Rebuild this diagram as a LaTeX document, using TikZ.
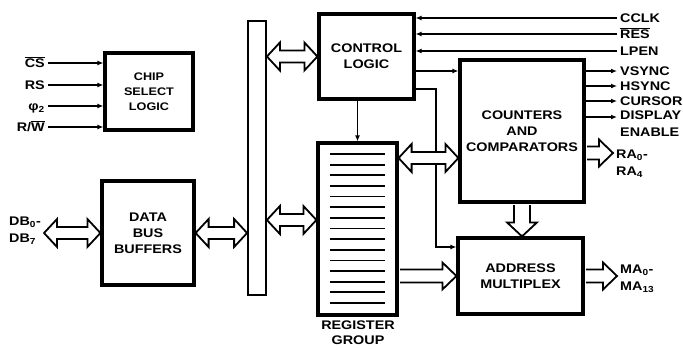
\documentclass[tikz,border=0pt]{standalone}
\usepackage{fontspec}
\setmainfont{Liberation Sans}[FakeStretch=1.15]
\usetikzlibrary{arrows.meta,calc}
\newcommand{\dblarrow}[2]{%
  \path[fat] let \p1=(#1), \p2=(#2) in
    (\x1,\y1) -- (\x1+13pt,\y1+14pt) -- (\x1+13pt,\y1+6pt) -- (\x2-13pt,\y1+6pt)
    -- (\x2-13pt,\y1+14pt) -- (\x2,\y1) -- (\x2-13pt,\y1-14pt) -- (\x2-13pt,\y1-6pt)
    -- (\x1+13pt,\y1-6pt) -- (\x1+13pt,\y1-14pt) -- cycle;}
\newcommand{\fatarrow}[2]{%
  \path[fat] let \p1=(#1), \p2=(#2) in
    (\x1+1.6pt,\y1+6.5pt) -- (\x2-14pt,\y1+6.5pt) -- (\x2-14pt,\y1+13.5pt) -- (\x2,\y1)
    -- (\x2-14pt,\y1-13.5pt) -- (\x2-14pt,\y1-6.5pt) -- (\x1+1.6pt,\y1-6.5pt);}
\newcommand{\fatdown}[2]{%
  \path[fat] let \p1=(#1), \p2=(#2) in
    (\x1-8pt,\y1-1.6pt) -- (\x1-8pt,\y2+14pt) -- (\x1-15pt,\y2+14pt) -- (\x1,\y2)
    -- (\x1+15pt,\y2+14pt) -- (\x1+8pt,\y2+14pt) -- (\x1+8pt,\y1-1.6pt);}

\begin{document}
\begin{tikzpicture}[x=1pt, y=-1pt,
    every node/.style={font=\bfseries\fontsize{12.5}{16}\selectfont},
    blk/.style={draw, line width=3.2pt, align=center},
    lbl/.style={inner sep=3pt, text height=9pt, text depth=0pt},
    lbl2/.style={inner sep=3pt, align=left, font=\bfseries\fontsize{12.5}{17}\selectfont},
    sig/.style={line width=1.8pt, -{Latex[length=6pt,width=5pt]}},
    fat/.style={draw, fill=white, line width=1.8pt}]

    \useasboundingbox (0,0) rectangle (683,349);

    \node[blk, minimum width=88pt, minimum height=77pt, font=\bfseries\fontsize{11}{15}\selectfont] (csl) at (149,91.5) {CHIP\\SELECT\\LOGIC};
    \node[blk, minimum width=92pt, minimum height=104pt] (dbb) at (148,233) {DATA\\BUS\\BUFFERS};
    \node[draw, line width=1.8pt, minimum width=18pt, minimum height=274pt] (bus) at (257,158) {};
    \node[blk, minimum width=95pt, minimum height=85pt] (ctl) at (366.5,56.5) {CONTROL\\LOGIC};
    \node[blk, minimum width=79pt, minimum height=172pt] (reg) at (357.5,229) {};
    \node[blk, minimum width=124pt, minimum height=142pt] (cnt) at (522,131) {COUNTERS\\AND\\COMPARATORS};
    \node[blk, minimum width=125pt, minimum height=76pt] (amx) at (520.5,276) {ADDRESS\\MULTIPLEX};
    \node[align=center, font=\bfseries\fontsize{12.5}{15}\selectfont] (lreg) at (358,333) {REGISTER\\GROUP};

    \foreach \i in {0,...,14}
        \draw[line width=1.8pt] (330,154+10.64*\i) -- (385,154+10.64*\i);

    \node[lbl, anchor=east] (lcs) at (48,63) {$\overline{\hbox{CS}}$};
    \node[lbl, anchor=east] (lrs) at (48,85) {RS};
    \node[lbl, anchor=east] (lphi) at (48,106) {φ\textsubscript{2}};
    \node[lbl, anchor=east] (lrw) at (48,127) {R/$\overline{\hbox{W}}$};

    \draw[sig] (lcs.east) -- (lcs -| csl.west);
    \draw[sig] (lrs.east) -- (lrs -| csl.west);
    \draw[sig] (lphi.east) -- (lphi -| csl.west);
    \draw[sig] (lrw.east) -- (lrw -| csl.west);

    \node[lbl, anchor=west] (lcclk) at (617,18) {CCLK};
    \node[lbl, anchor=west] (lres) at (617,34) {$\overline{\hbox{RES}}$};
    \node[lbl, anchor=west] (llpen) at (617,51) {LPEN};

    \draw[sig] (lcclk.west) -- (lcclk -| ctl.east);
    \draw[sig] (lres.west) -- (lres -| ctl.east);
    \draw[sig] (llpen.west) -- (llpen -| ctl.east);

    \node[lbl, anchor=west] (lvs) at (617,71) {VSYNC};
    \node[lbl, anchor=west] (lhs) at (617,86) {HSYNC};
    \node[lbl, anchor=west] (lcur) at (617,101) {CURSOR};
    \node[lbl2, anchor=north west] (lde) at (617,108) {DISPLAY\\ENABLE};

    \draw[sig] (lvs -| cnt.east) -- (lvs.west);
    \draw[sig] (lhs -| cnt.east) -- (lhs.west);
    \draw[sig] (lcur -| cnt.east) -- (lcur.west);
    \draw[sig] (cnt.east |- 0,117) -- (lde.west |- 0,117);

    \node[lbl2, anchor=west] (lra) at (613,163.5) {RA\textsubscript{0}-\\RA\textsubscript{4}};
    \node[lbl2, anchor=west] (lma) at (617,278.5) {MA\textsubscript{0}-\\MA\textsubscript{13}};
    \node[lbl2, anchor=west] (ldb) at (6,230.5) {DB\textsubscript{0}-\\DB\textsubscript{7}};

    \draw[sig] (ctl.east |- 0,71) -- (cnt.west |- 0,71);
    \draw[sig] (reg.north |- ctl.south) -- (reg.north);
    \draw[sig] (ctl.east |- 0,89) -- (436,89) |- (amx.west |- 0,247);

    \dblarrow{bus.east |- ctl.west}{ctl.west}
    \dblarrow{dbb.east}{dbb.east -| bus.west}
    \dblarrow{ldb.east |- dbb.west}{dbb.west}
    \dblarrow{bus.east |- 0,220}{reg.west |- 0,220}
    \dblarrow{reg.east |- 0,158}{cnt.west |- 0,158}
    \fatarrow{reg.east |- amx.west}{amx.west}
    \fatarrow{cnt.east |- 0,153}{lra.west |- 0,153}
    \fatarrow{amx.east}{lma.west |- amx.east}
    \fatdown{cnt.south}{cnt.south |- amx.north}
\end{tikzpicture}
\end{document}
